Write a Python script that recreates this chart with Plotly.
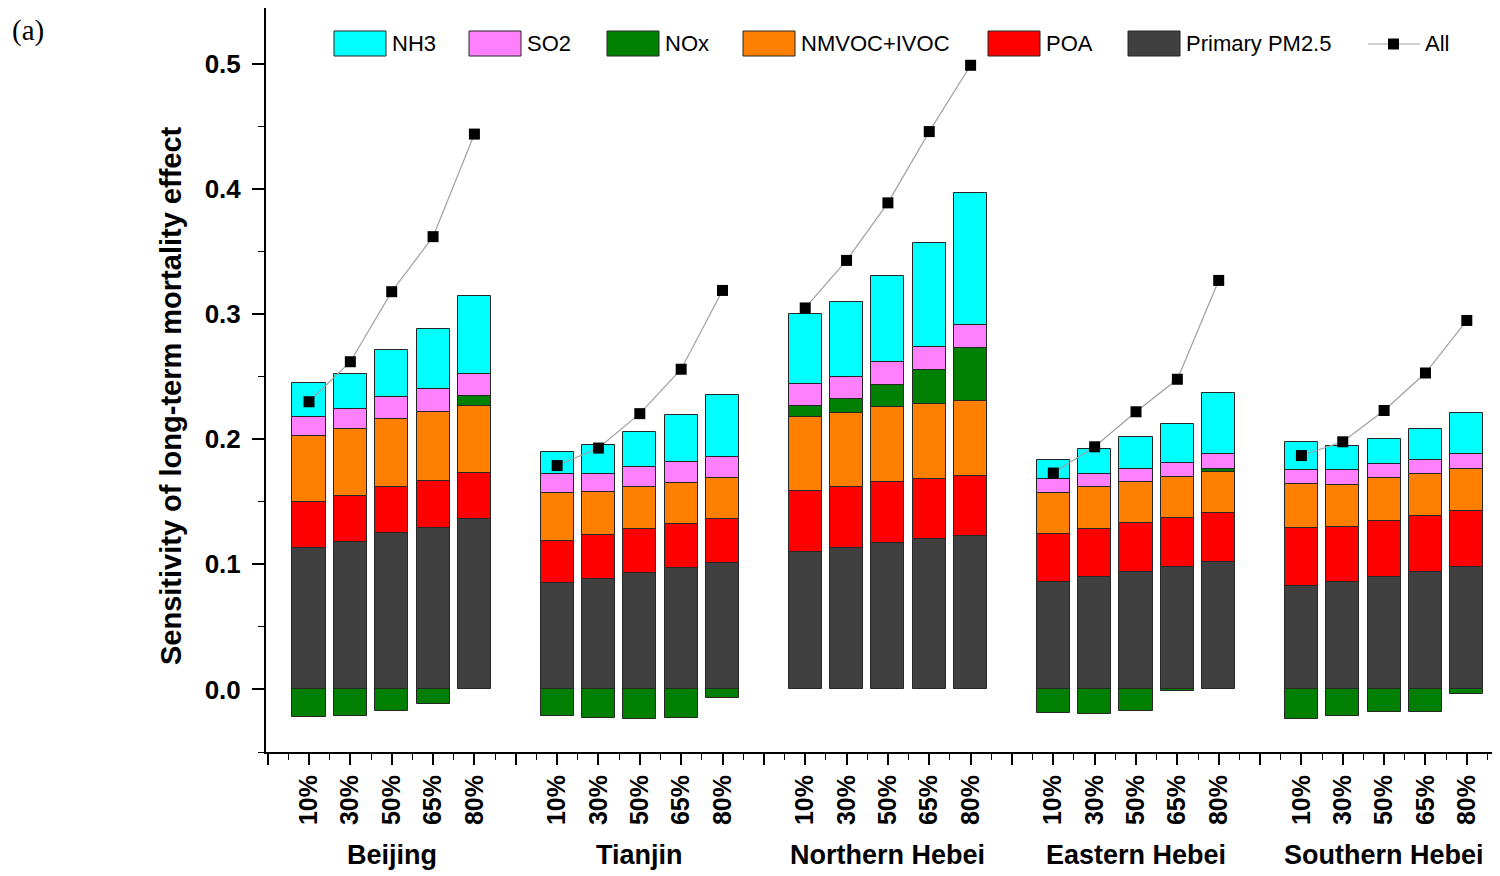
import plotly.graph_objects as go

regions = ["Beijing", "Tianjin", "Northern Hebei", "Eastern Hebei", "Southern Hebei"]
levels = ["10%", "30%", "50%", "65%", "80%"]

primary_pm25 = [0.113, 0.118, 0.125, 0.129, 0.136,
                0.085, 0.0885, 0.093, 0.097, 0.101,
                0.110, 0.113, 0.117, 0.120, 0.123,
                0.086, 0.090, 0.094, 0.098, 0.102,
                0.083, 0.086, 0.090, 0.094, 0.098]
poa = [0.037, 0.037, 0.037, 0.038, 0.037,
       0.034, 0.035, 0.035, 0.035, 0.035,
       0.049, 0.049, 0.0486, 0.048, 0.048,
       0.038, 0.0385, 0.039, 0.039, 0.039,
       0.046, 0.0435, 0.045, 0.045, 0.045]
nmvoc_ivoc = [0.053, 0.053, 0.054, 0.055, 0.054,
              0.038, 0.034, 0.034, 0.033, 0.033,
              0.059, 0.059, 0.060, 0.060, 0.060,
              0.033, 0.033, 0.033, 0.033, 0.033,
              0.035, 0.034, 0.034, 0.033, 0.033]
nox = [-0.022, -0.021, -0.017, -0.012, 0.008,
       -0.021, -0.023, -0.0235, -0.023, -0.007,
       0.009, 0.011, 0.018, 0.027, 0.042,
       -0.019, -0.020, -0.017, -0.0016, 0.0026,
       -0.024, -0.021, -0.018, -0.018, -0.0035]
so2 = [0.015, 0.0165, 0.018, 0.018, 0.0174,
       0.015, 0.015, 0.0155, 0.0165, 0.0165,
       0.0175, 0.018, 0.018, 0.019, 0.018,
       0.0116, 0.011, 0.0106, 0.011, 0.0115,
       0.0115, 0.012, 0.0115, 0.0115, 0.012]
nh3 = [0.027, 0.028, 0.037, 0.048, 0.062,
       0.018, 0.023, 0.028, 0.038, 0.050,
       0.056, 0.060, 0.069, 0.083, 0.106,
       0.0146, 0.020, 0.025, 0.031, 0.049,
       0.022, 0.019, 0.020, 0.025, 0.033]
all_sources = [0.230, 0.262, 0.318, 0.362, 0.444,
               0.179, 0.193, 0.2205, 0.256, 0.319,
               0.305, 0.343, 0.389, 0.446, 0.499,
               0.173, 0.194, 0.222, 0.248, 0.327,
               0.187, 0.198, 0.223, 0.253, 0.295]

# x positions: one empty slot between region groups
xpos = []
for g in range(len(regions)):
    for i in range(len(levels)):
        xpos.append(1 + 6 * g + i)

FONT = "Liberation Sans, Arial, sans-serif"
OUTLINE = dict(color="#262626", width=1)

# figure geometry (the page adds an 8px body margin)
W, H = 1492, 868
ML, MR, MT, MB = 258, 3, 0, 124
PW, PH = W - ML - MR, H - MT - MB


def px_to_paper_x(px):  # page pixel -> paper fraction
    return (px - 8 - ML) / PW


def px_to_paper_y(py):
    return 1 - (py - 8 - MT) / PH


fig = go.Figure()
series = [
    ("Primary PM2.5", primary_pm25, "#404040"),
    ("POA", poa, "#FF0000"),
    ("NMVOC+IVOC", nmvoc_ivoc, "#FF8000"),
    ("NOx", nox, "#008000"),
    ("SO2", so2, "#FF80FF"),
    ("NH3", nh3, "#00FFFF"),
]
for name, vals, col in series:
    fig.add_trace(go.Bar(x=xpos, y=vals, name=name, width=0.8,
                         marker=dict(color=col, line=OUTLINE), showlegend=False))

# "All" line, broken between groups
lx, ly = [], []
for g in range(len(regions)):
    for i in range(len(levels)):
        k = g * len(levels) + i
        lx.append(xpos[k])
        ly.append(all_sources[k])
    lx.append(None)
    ly.append(None)
fig.add_trace(go.Scatter(x=lx, y=ly, name="All", mode="lines+markers",
                         line=dict(color="#A0A0A0", width=1.2),
                         marker=dict(symbol="square", size=11, color="black"),
                         showlegend=False))

# ticks
tickvals, ticktext = [], []
for t in range(0, 30):
    tickvals.append(t)
    ticktext.append(levels[(t - 1) % 6] if (t % 6) != 0 else "")

fig.update_layout(
    width=W, height=H,
    barmode="relative",
    bargap=0,
    plot_bgcolor="white", paper_bgcolor="white",
    margin=dict(l=ML, r=MR, t=MT, b=MB, autoexpand=False),
    font=dict(family=FONT, color="black"),
    showlegend=False,
    xaxis=dict(range=[-0.04, 29.73], showgrid=False, zeroline=False,
               showline=True, linecolor="black", linewidth=2,
               tickmode="array", tickvals=tickvals, ticktext=ticktext,
               ticks="outside", ticklen=11, tickwidth=1.5, tickcolor="black",
               tickangle=-90, tickfont=dict(size=25, family=FONT, weight="bold"),
               minor=dict(dtick=0.5, tick0=0.5, ticks="outside", ticklen=6,
                          tickwidth=1.2, tickcolor="black", showgrid=False)),
    yaxis=dict(range=[-0.05, 0.5448], showgrid=False, zeroline=False,
               showline=True, linecolor="black", linewidth=2,
               tickvals=[0, 0.1, 0.2, 0.3, 0.4, 0.5], tickformat=".1f",
               ticks="outside", ticklen=12, tickwidth=1.5, tickcolor="black",
               ticklabelstandoff=6,
               tickfont=dict(size=26, family=FONT, weight="bold"),
               minor=dict(tickvals=[0.05, 0.15, 0.25, 0.35, 0.45, -0.05],
                          ticks="outside", ticklen=6, tickwidth=1.2, tickcolor="black")),
)

# y-axis title
fig.add_annotation(x=px_to_paper_x(171), y=px_to_paper_y(396), xref="paper", yref="paper",
                   xanchor="center", yanchor="middle", showarrow=False, textangle=-90,
                   text="<b>Sensitivity of long-term mortality effect</b>",
                   font=dict(size=29, family=FONT, color="black"))

# region labels
for g, reg in enumerate(regions):
    fig.add_annotation(x=1 + 6 * g + 2, y=0, xref="x", yref="paper", yshift=-103,
                       yanchor="middle", xanchor="center", showarrow=False,
                       text="<b>%s</b>" % reg,
                       font=dict(size=27, family=FONT, color="black"))

# panel label
fig.add_annotation(x=px_to_paper_x(10), y=px_to_paper_y(12), xref="paper", yref="paper",
                   xanchor="left", yanchor="top", showarrow=False, text="(a)",
                   font=dict(size=29, family="Liberation Serif, Times New Roman, serif",
                             color="black"))

# legend drawn as boxes + labels, in reference order
legend_items = ["NH3", "SO2", "NOx", "NMVOC+IVOC", "POA", "Primary PM2.5"]
legend_left_px = [334, 469, 607, 743, 988, 1128]
colour_of = {name: col for name, _, col in series}
box_w, box_top, box_bot = 52, 31, 56
for name, left in zip(legend_items, legend_left_px):
    fig.add_shape(type="rect", xref="paper", yref="paper",
                  x0=px_to_paper_x(left), x1=px_to_paper_x(left + box_w),
                  y0=px_to_paper_y(box_bot), y1=px_to_paper_y(box_top),
                  fillcolor=colour_of[name], line=dict(color="#262626", width=1))
    fig.add_annotation(x=px_to_paper_x(left + box_w + 4), y=px_to_paper_y(44),
                       xref="paper", yref="paper", xanchor="left", yanchor="middle",
                       showarrow=False, text=name,
                       font=dict(size=22, family=FONT, color="black"))
# "All" legend entry
fig.add_shape(type="line", xref="paper", yref="paper",
              x0=px_to_paper_x(1368), x1=px_to_paper_x(1420),
              y0=px_to_paper_y(44), y1=px_to_paper_y(44),
              line=dict(color="#A0A0A0", width=1.2))
fig.add_shape(type="rect", xref="paper", yref="paper",
              x0=px_to_paper_x(1388), x1=px_to_paper_x(1399),
              y0=px_to_paper_y(49.5), y1=px_to_paper_y(38.5),
              fillcolor="black", line=dict(color="black", width=0))
fig.add_annotation(x=px_to_paper_x(1423), y=px_to_paper_y(44), xref="paper", yref="paper",
                   xanchor="left", yanchor="middle", showarrow=False, text="All",
                   font=dict(size=22, family=FONT, color="black"))

fig.write_html("out.html")
